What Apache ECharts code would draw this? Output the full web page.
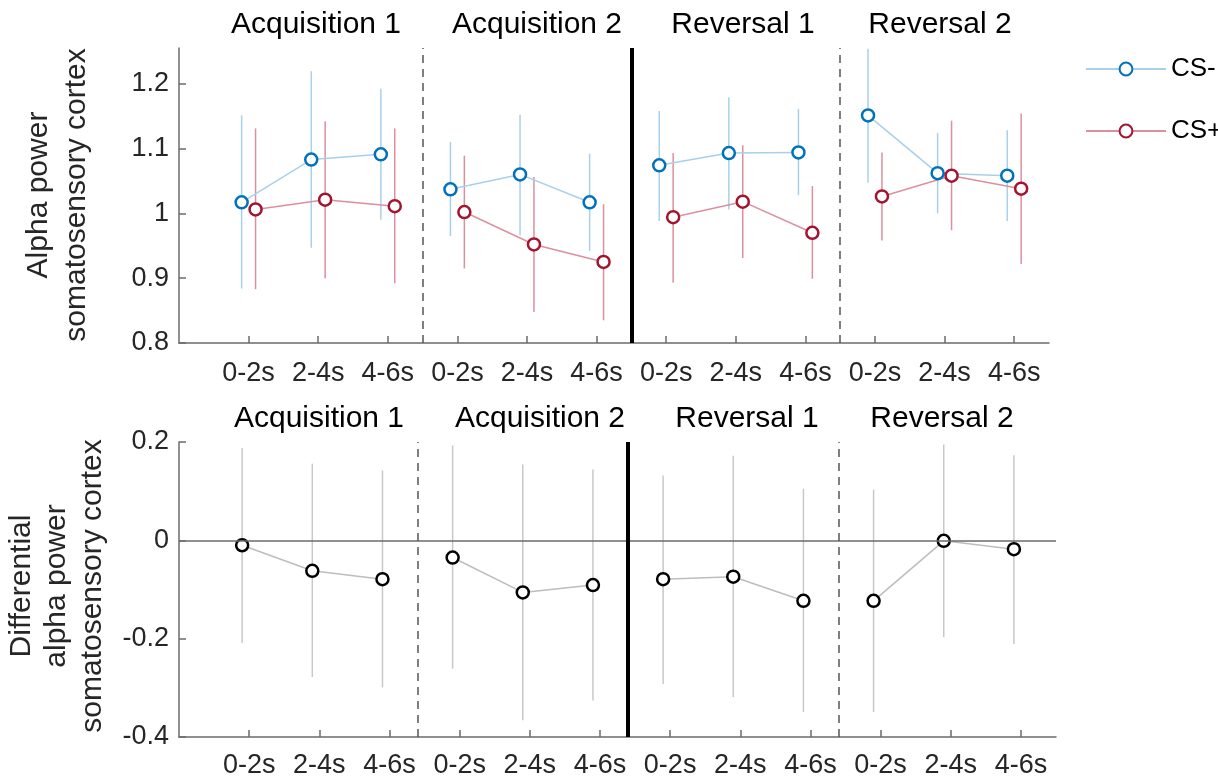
<!DOCTYPE html>
<html>
<head>
<meta charset="utf-8">
<script src="https://cdn.jsdelivr.net/npm/echarts@6/dist/echarts.min.js"></script>
<style>
  html, body { margin: 0; padding: 0; background: #fff; }
  #chart { width: 1218px; height: 781px; }
</style>
</head>
<body>
<div id="chart"></div>
<script>
// tick labels and phase titles
var timeLabels = ['0-2s', '2-4s', '4-6s', '0-2s', '2-4s', '4-6s', '0-2s', '2-4s', '4-6s', '0-2s', '2-4s', '4-6s'];
var phaseNames = ['Acquisition 1', 'Acquisition 2', 'Reversal 1', 'Reversal 2'];
var tickPos = [1, 2, 3, 4, 5, 6, 7, 8, 9, 10, 11, 12];
var yTicksTop = [0.8, 0.9, 1, 1.1, 1.2];
var yTicksBottom = [-0.4, -0.2, 0, 0.2];

// top panel: alpha power
var csMinusMean = [1.017, 1.083, 1.091, 1.037, 1.060, 1.017, 1.074, 1.093, 1.094, 1.151, 1.062, 1.058];
var csMinusLow  = [0.884, 0.947, 0.990, 0.965, 0.966, 0.942, 0.988, 1.006, 1.028, 1.047, 1.000, 0.988];
var csMinusHigh = [1.151, 1.219, 1.192, 1.110, 1.152, 1.092, 1.158, 1.179, 1.161, 1.254, 1.124, 1.128];
var csPlusMean  = [1.006, 1.021, 1.011, 1.002, 0.952, 0.925, 0.994, 1.018, 0.970, 1.026, 1.058, 1.038];
var csPlusLow   = [0.883, 0.900, 0.892, 0.915, 0.848, 0.835, 0.893, 0.931, 0.899, 0.958, 0.974, 0.922];
var csPlusHigh  = [1.131, 1.142, 1.131, 1.089, 1.056, 1.014, 1.093, 1.105, 1.042, 1.094, 1.143, 1.154];

// bottom panel: differential alpha power (CS+ minus CS-)
var diffMean = [-0.010, -0.062, -0.079, -0.035, -0.106, -0.091, -0.079, -0.074, -0.123, -0.123, -0.001, -0.018];
var diffLow  = [-0.209, -0.278, -0.299, -0.261, -0.366, -0.326, -0.292, -0.319, -0.349, -0.349, -0.197, -0.211];
var diffHigh = [0.188, 0.156, 0.142, 0.193, 0.154, 0.144, 0.132, 0.172, 0.105, 0.103, 0.195, 0.173];

var FONT = 'Liberation Sans, Arial, sans-serif';
var axisColor = '#6b6b6b';
var textColor = '#262626';

// line data, broken between phases
function lineData(mean, offset) {
  var out = [];
  mean.forEach(function (v, i) {
    if (i > 0 && i % 3 === 0) out.push([i + 0.5 + offset, '-']);
    out.push([i + 1 + offset, v]);
  });
  return out;
}

function errorSeries(name, gi, low, high, offset, color) {
  return {
    name: name,
    type: 'custom',
    xAxisIndex: gi,
    yAxisIndex: gi,
    z: 1,
    silent: true,
    clip: true,
    data: low.map(function (l, i) { return [i + 1 + offset, l, high[i]]; }),
    encode: { x: 0, y: [1, 2] },
    renderItem: function (params, api) {
      var lo = api.coord([api.value(0), api.value(1)]);
      var hi = api.coord([api.value(0), api.value(2)]);
      return {
        type: 'line',
        shape: { x1: lo[0], y1: lo[1], x2: hi[0], y2: hi[1] },
        style: { stroke: color, lineWidth: 1.5 }
      };
    }
  };
}

function xAxis(gi, margin) {
  return {
    type: 'value', gridIndex: gi, min: 0, max: 12.5,
    axisLine: { onZero: false, lineStyle: { color: axisColor, width: 1.5 } },
    axisTick: { inside: true, length: 7, customValues: tickPos, lineStyle: { color: axisColor, width: 1.5 } },
    axisLabel: {
      customValues: tickPos, margin: margin, fontSize: 27, color: textColor, fontFamily: FONT,
      formatter: function (v) { return timeLabels[Math.round(v) - 1] || ''; }
    },
    splitLine: { show: false }
  };
}

function yAxis(gi, min, max, ticks) {
  return {
    type: 'value', gridIndex: gi, min: min, max: max,
    axisLine: { show: true, onZero: false, lineStyle: { color: axisColor, width: 1.5 } },
    axisTick: { inside: true, length: 7, customValues: ticks, lineStyle: { color: axisColor, width: 1.5 } },
    axisLabel: { customValues: ticks, margin: 10, fontSize: 27, color: textColor, fontFamily: FONT },
    splitLine: { show: false }
  };
}

function divider(x, solid) {
  return {
    xAxis: x,
    lineStyle: solid ? { type: 'solid', color: '#000', width: 4 } : { type: [8, 6], color: '#555', width: 1.5 }
  };
}

var chart = echarts.init(document.getElementById('chart'));

var titleTop = [316, 537, 743, 940];
var titleBottom = [319, 540, 747, 942];
var graphics = [];
phaseNames.forEach(function (p, i) {
  graphics.push({ type: 'text', x: titleTop[i], y: 25, style: { text: p, font: '30px ' + FONT, fill: '#000', textAlign: 'center', verticalAlign: 'middle' } });
  graphics.push({ type: 'text', x: titleBottom[i], y: 419, style: { text: p, font: '30px ' + FONT, fill: '#000', textAlign: 'center', verticalAlign: 'middle' } });
});
graphics.push({ type: 'text', x: 58, y: 195, rotation: Math.PI / 2,
  style: { text: 'Alpha power\nsomatosensory cortex', font: '30px ' + FONT, lineHeight: 38, fill: textColor, textAlign: 'center', verticalAlign: 'middle' } });
graphics.push({ type: 'text', x: 57, y: 586, rotation: Math.PI / 2,
  style: { text: 'Differential\nalpha power\nsomatosensory cortex', font: '30px ' + FONT, lineHeight: 35.5, fill: textColor, textAlign: 'center', verticalAlign: 'middle' } });

chart.setOption({
  animation: false,
  backgroundColor: '#fff',
  grid: [
    { left: 179, top: 48, width: 870, height: 295 },
    { left: 179, top: 442, width: 877, height: 295 }
  ],
  xAxis: [xAxis(0, 17), xAxis(1, 15)],
  yAxis: [yAxis(0, 0.8, 1.255, yTicksTop), yAxis(1, -0.4, 0.2, yTicksBottom)],
  legend: {
    data: ['CS-', 'CS+'],
    orient: 'vertical',
    left: 1080, top: 51,
    itemWidth: 80, itemHeight: 16, itemGap: 36,
    textStyle: { fontSize: 26, color: '#000', fontFamily: FONT }
  },
  graphic: graphics,
  series: [
    errorSeries('err-', 0, csMinusLow, csMinusHigh, -0.1, '#a9d0ea'),
    errorSeries('err+', 0, csPlusLow, csPlusHigh, 0.1, '#dc909e'),
    {
      name: 'CS-', type: 'line', xAxisIndex: 0, yAxisIndex: 0, z: 3,
      data: lineData(csMinusMean, -0.1),
      symbol: 'circle', symbolSize: 12,
      itemStyle: { color: '#fff', borderColor: '#0072BD', borderWidth: 2.5 },
      lineStyle: { color: '#a9d0ea', width: 1.5 },
      markLine: {
        silent: true, symbol: 'none', label: { show: false },
        data: [divider(3.5, false), divider(6.5, true), divider(9.5, false)]
      }
    },
    {
      name: 'CS+', type: 'line', xAxisIndex: 0, yAxisIndex: 0, z: 3,
      data: lineData(csPlusMean, 0.1),
      symbol: 'circle', symbolSize: 12,
      itemStyle: { color: '#fff', borderColor: '#A2142F', borderWidth: 2.5 },
      lineStyle: { color: '#dc909e', width: 1.5 }
    },
    errorSeries('errd', 1, diffLow, diffHigh, -0.1, '#c8c8c8'),
    {
      name: 'diff', type: 'line', xAxisIndex: 1, yAxisIndex: 1, z: 3,
      data: lineData(diffMean, -0.1),
      symbol: 'circle', symbolSize: 12,
      itemStyle: { color: '#fff', borderColor: '#000', borderWidth: 2.5 },
      lineStyle: { color: '#bdbdbd', width: 1.5 },
      markLine: {
        silent: true, symbol: 'none', label: { show: false },
        data: [
          { yAxis: 0, lineStyle: { type: 'solid', color: '#6b6b6b', width: 1.5 } },
          divider(3.4, false), divider(6.4, true), divider(9.4, false)
        ]
      }
    }
  ]
});
</script>
</body>
</html>
